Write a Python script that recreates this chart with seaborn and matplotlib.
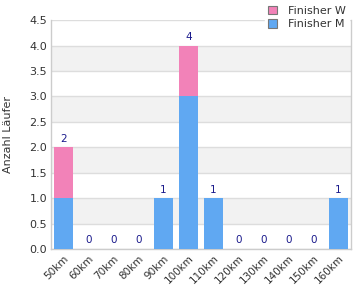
import matplotlib
matplotlib.use("Agg")
import matplotlib.pyplot as plt
import seaborn as sns
import pandas as pd
import numpy as np
from matplotlib.patches import Patch

categories = ["50km", "60km", "70km", "80km", "90km", "100km", "110km",
              "120km", "130km", "140km", "150km", "160km"]
finisher_m = [1, 0, 0, 0, 1, 3, 1, 0, 0, 0, 0, 1]
finisher_w = [1, 0, 0, 0, 0, 1, 0, 0, 0, 0, 0, 0]
yticks = [0.0, 0.5, 1.0, 1.5, 2.0, 2.5, 3.0, 3.5, 4.0, 4.5]

col_m = "#60a8f2"
col_w = "#f282b8"

sns.set_style("white")
plt.rcParams["font.family"] = ["DejaVu Sans"]

totals = [m + w for m, w in zip(finisher_m, finisher_w)]
df = pd.DataFrame({"cat": categories, "M": finisher_m, "T": totals})

fig = plt.figure(figsize=(3.6, 3.0), dpi=100)
ax = fig.add_axes([0.142, 0.17, 0.833, 0.763])

# alternating bands
for i in range(len(yticks) - 1):
    if i % 2 == 1:
        ax.axhspan(yticks[i], yticks[i + 1], color="#f2f2f2", zorder=0, lw=0)
for t in yticks:
    ax.axhline(t, color="#dddddd", lw=1, zorder=0.5)

sns.barplot(data=df, x="cat", y="T", color=col_w, width=0.76, ax=ax,
            saturation=1, zorder=2, linewidth=0)
sns.barplot(data=df, x="cat", y="M", color=col_m, width=0.76, ax=ax,
            saturation=1, zorder=3, linewidth=0)

for i, t in enumerate(totals):
    ax.text(i, t + 0.07, str(t), ha="center", va="bottom", fontsize=7.5,
            color="#1a1a8c", zorder=4)

ax.set_xlim(-0.5, len(categories) - 0.5)
ax.set_ylim(0, 4.5)
ax.set_yticks(yticks)
ax.set_yticklabels([f"{t:.1f}" for t in yticks], fontsize=8, color="#333333")
ax.set_xticks(range(len(categories)))
ax.set_xticklabels(categories, rotation=45, ha="right", rotation_mode="anchor",
                   fontsize=7.5, color="#333333")
ax.tick_params(axis="both", length=0, pad=3)
ax.set_xlabel("")
ax.set_ylabel("Anzahl Läufer", fontsize=8, color="#333333", labelpad=12)

for s in ["left", "bottom", "right"]:
    ax.spines[s].set_color("#cccccc")
    ax.spines[s].set_linewidth(1)
ax.spines["top"].set_visible(False)

handles = [Patch(facecolor=col_w, edgecolor="#777777", lw=0.8, label="Finisher W"),
           Patch(facecolor=col_m, edgecolor="#777777", lw=0.8, label="Finisher M")]
fig.legend(handles=handles, loc="upper right", bbox_to_anchor=(0.985, 1.01),
           frameon=True, facecolor="white", edgecolor="white", framealpha=1,
           fontsize=8, handlelength=0.8, handleheight=0.8, handletextpad=1.0,
           labelspacing=0.3, borderpad=0.3, labelcolor="#333333")

fig.savefig("out.png", dpi=100)
